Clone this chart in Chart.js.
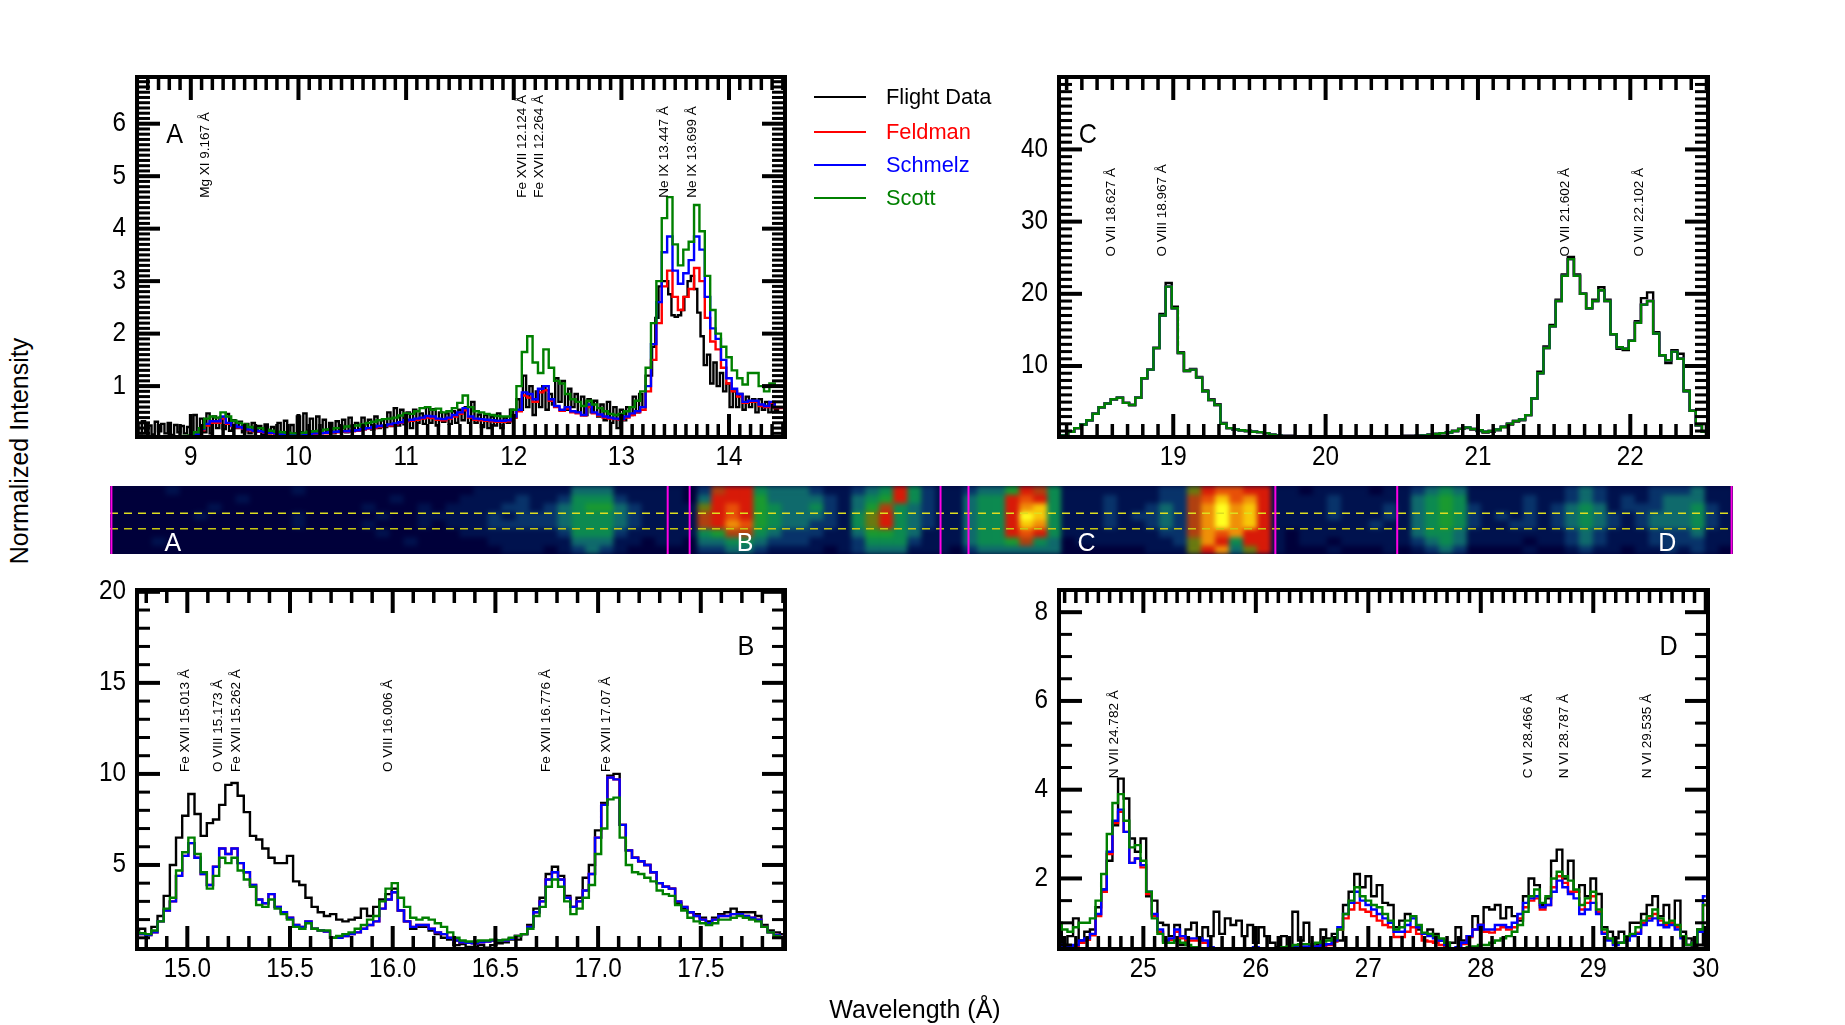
<!DOCTYPE html>
<html>
<head>
<meta charset="utf-8">
<title>Spectrum panels</title>
<script src="https://cdn.jsdelivr.net/npm/chart.js@4"></script>
<style>
  html, body { margin: 0; padding: 0; background: #fff; }
  #page { position: relative; width: 1845px; height: 1025px; overflow: hidden; font-family: "Liberation Sans", sans-serif; }
  canvas { position: absolute; }
  .axisname { position: absolute; font: 25px "Liberation Sans", sans-serif; color: #000; white-space: nowrap; }
  .legline { position: absolute; height: 2px; width: 52px; left: 814px; }
  .legtext { position: absolute; left: 886px; font-size: 21.8px; line-height: 24px; white-space: nowrap; }
  #strip { position: absolute; left: 110px; top: 486px; width: 1623px; height: 68px; overflow: hidden; background: #00003a; }
</style>
</head>
<body>
<div id="page">
  <canvas id="chartA" width="756" height="427" style="left:57px;top:60px"></canvas>
  <canvas id="chartC" width="757" height="427" style="left:979px;top:60px"></canvas>
  <canvas id="chartB" width="756" height="425" style="left:57px;top:574px"></canvas>
  <canvas id="chartD" width="757" height="425" style="left:979px;top:574px"></canvas>
  <div id="strip">
    <canvas id="stripCells" width="1623" height="68" style="left:0;top:0;filter:blur(2.5px)"></canvas>
  </div>
  <canvas id="stripMarks" width="1623" height="68" style="left:110px;top:486px"></canvas>
  <div class="axisname" style="left:915px;top:995px;transform:translateX(-50%)">Wavelength (Å)</div>
  <div class="axisname" style="left:19px;top:451px;transform:translate(-50%,-50%) rotate(-90deg)">Normalized Intensity</div>
</div>

<script>
const seriesNames = ["Flight Data", "Feldman", "Schmelz", "Scott"];
const seriesColors = ["#000000", "#ff0000", "#0000ff", "#008000"];

// panel A, 8.5 - 14.5 A
const flightA = [
  .28,.1,.33,.12,.25,.08,.32,.14,.28,.1,.3,.07,.26,.12,.24,.1,.22,
  .08,.45,.1,.38,.12,.48,.1,.42,.2,.4,.18,.47,.15,.35,.2,.32,.12,.28,.1,.3,.14,.24,.08,.27,.1,.22,.07,.3,.09,.34,.08,.26,.1,
  .42,.12,.48,.15,.38,.1,.42,.16,.36,.14,.3,.1,.33,.13,.36,.12,.4,.15,.3,.18,.4,.2,.36,.17,.42,.2,.35,.22,.5,.24,.58,.25,.55,
  .27,.5,.2,.55,.3,.48,.28,.6,.3,.56,.25,.5,.32,.48,.28,.52,.3,.55,.35,.6,.3,.7,.3,.46,.22,.45,.2,.42,.25,.48,.2,.4,.3,
  .55,.4,.75,.55,1.2,.6,1.0,.45,.9,.6,1.0,.55,.85,.65,1.15,.7,1.1,.55,.95,.6,.85,.5,.8,.45,.75,.5,.72,.42,.65,.35,.7,.3,.6,
  .2,.55,.35,.6,.45,.8,.5,.85,.6,1.2,1.2,1.75,2.3,2.9,3.0,3.0,2.75,2.35,2.32,2.35,2.45,2.7,3.0,3.1,2.85,2.4,1.95,1.4,1.6,1.05,
  1.45,1.0,1.25,.9,1.05,.6,.9,.6,.85,.55,.8,.6,.75,.5,.75,.55,.7,.5,.65,.55,.6];
const feldmanA = [
  .02,.02,.02,.02,.02,.02,.02,.02,.02,.02,
  .04,.07,.16,.25,.3,.3,.38,.28,.24,.21,
  .19,.16,.14,.13,.11,.1,.09,.08,.08,.08,
  .08,.08,.09,.09,.1,.1,.11,.12,.13,.13,
  .14,.15,.17,.19,.2,.22,.24,.25,.27,.3,
  .33,.34,.36,.38,.4,.39,.36,.35,.38,.42,
  .47,.54,.4,.36,.35,.34,.33,.32,.32,.33,
  .4,.52,.82,.78,.7,.88,.92,.72,.6,.53,
  .57,.5,.48,.44,.6,.48,.44,.4,.38,.37,
  .36,.4,.45,.5,.55,.9,1.5,2.2,2.9,3.2,
  2.7,2.45,2.7,2.85,3.25,3.0,2.3,1.85,1.7,1.35,
  1.05,.9,.8,.68,.7,.7,.62,.6,.68,.58,.58];
const schmelzA = [
  .02,.02,.02,.02,.02,.02,.02,.02,.02,.02,
  .04,.08,.18,.28,.33,.33,.42,.3,.25,.22,
  .2,.17,.15,.14,.12,.11,.1,.09,.08,.08,
  .08,.08,.09,.1,.1,.11,.12,.13,.14,.14,
  .15,.16,.18,.2,.22,.24,.25,.27,.29,.31,
  .35,.36,.38,.4,.43,.42,.38,.37,.4,.45,
  .5,.58,.42,.38,.37,.36,.35,.34,.34,.35,
  .42,.55,.88,.85,.75,.95,1.0,.75,.62,.55,
  .6,.52,.5,.45,.65,.5,.46,.42,.4,.38,
  .37,.42,.48,.52,.6,1.0,1.8,2.6,3.55,3.85,
  3.2,2.95,3.15,3.4,3.85,3.6,2.7,2.1,1.9,1.5,
  1.15,.95,.85,.7,.72,.72,.65,.62,.7,.6,.6];
const scottA = [
  .03,.03,.03,.03,.03,.03,.03,.03,.03,.05,
  .06,.12,.2,.38,.42,.4,.5,.42,.34,.3,
  .27,.22,.2,.2,.17,.15,.13,.12,.11,.1,
  .1,.11,.13,.14,.15,.17,.18,.2,.2,.23,
  .24,.25,.27,.3,.32,.35,.37,.38,.4,.44,
  .48,.47,.52,.58,.6,.55,.57,.5,.52,.58,
  .68,.82,.6,.52,.5,.47,.45,.43,.42,.42,
  .55,1.0,1.65,1.95,1.45,1.25,1.7,1.35,1.1,1.05,
  .85,.75,.7,.62,.72,.65,.58,.52,.47,.45,
  .47,.52,.6,.72,.9,1.35,2.2,3.0,4.2,4.6,
  3.7,3.3,3.6,3.75,4.45,3.95,3.1,2.45,2.0,1.75,
  1.55,1.3,1.15,1.03,1.25,1.25,1.0,.9,1.05,1.0,1.0];

// panel C, 18.25 - 22.49 A, the three models sit on top of each other here
const flightC = [
  .2,.4,.9,1.4,1.9,2.5,3.4,4.3,4.8,5.4,5.6,4.9,4.6,5.6,8.3,9.5,12.5,17.2,21.5,18.2,11.9,9.4,9.6,8.5,6.6,5.4,4.7,2.1,1.4,1.2,1.1,1.0,
  .9,.85,.7,.5,.4,.3,.3,.2,.2,.2,.2,.2,.2,.2,.2,.2,.2,.2,.2,.2,.2,.2,.2,.2,.25,.3,.3,.35,.4,.5,.6,.7,.8,1.0,1.3,1.4,1.2,1.0,.8,.9,1.1,1.5,1.9,
  2.3,2.5,3.2,5.5,9.2,12.7,15.7,19.2,22.7,25.1,22.7,20,18,19.2,20.9,19.2,14.4,12.4,12.2,13.5,16.2,19.4,20.2,14.7,11.5,10.4,12.2,11.7,6.6,3.8,1.8,.9];
const modelC = [
  .2,.4,.9,1.4,1.9,2.5,3.4,4.3,4.8,5.4,5.6,4.9,4.6,5.6,8.3,9.5,12.5,17,21,18,11.8,9.3,9.5,8.4,6.5,5.3,4.6,2,1.4,1.2,1.1,1.0,
  .9,.85,.7,.5,.4,.3,.3,.2,.2,.2,.2,.2,.2,.2,.2,.2,.2,.2,.2,.2,.2,.2,.2,.2,.25,.3,.3,.35,.4,.5,.6,.7,.8,1.0,1.3,1.5,1.3,1.1,.9,1.0,1.2,1.6,2.0,
  2.4,2.6,3.2,5.5,9,12.5,15.5,19,22.5,24.8,22.5,20,18,19,20.5,19,14.4,12.6,12.4,13.5,16,18.5,19,14.5,11.5,10.8,12,11,6.5,3.8,1.8,.9];

// panel B, 14.75 - 17.9 A
const flightB = [
  1.4,1.5,1.2,1.6,2.2,3.3,5.0,6.5,7.7,8.9,7.8,6.6,7.3,7.5,8.3,9.4,9.5,8.8,7.9,6.6,6.4,5.9,5.4,5.1,5.1,5.5,4.1,3.9,3.2,2.7,2.4,2.2,2.3,2.0,1.9,2.0,
  2.1,2.6,2.2,2.7,3.1,3.4,3.7,2.5,1.9,1.5,1.6,1.6,1.4,1.2,1.0,.9,.6,.65,.5,.5,.6,.45,.6,.7,.75,.9,.9,1.2,1.7,2.6,3.2,4.5,4.9,4.4,3.3,2.7,3.2,4.3,
  5.0,6.9,8.4,9.9,10.0,7.2,5.8,5.4,5.2,5.0,4.6,4.0,3.8,3.7,2.9,2.6,2.4,2.3,2.1,1.9,2.1,2.3,2.4,2.6,2.4,2.4,2.4,2.2,1.7,1.4,1.3,1.2];
const schmelzB = [
  1.25,1.2,1.15,1.3,1.9,2.5,3.0,4.4,5.5,6.2,5.4,4.5,3.9,4.9,5.9,5.6,5.9,5.1,4.6,3.9,3.1,2.9,3.4,2.7,2.4,2.1,1.7,1.6,1.9,1.5,1.4,1.35,1.0,1.0,1.1,1.2,
  1.3,1.5,1.7,1.9,2.6,3.1,3.5,2.5,1.9,1.6,1.7,1.7,1.5,1.3,1.2,1.0,.85,.75,.72,.7,.75,.8,.85,.85,.85,.95,1.1,1.2,1.6,2.4,3.0,4.2,4.6,4.2,3.2,2.7,3.0,3.6,
  4.5,6.5,8.3,9.8,9.7,7.2,5.8,5.4,5.2,5.0,4.6,4.0,3.8,3.7,3.0,2.7,2.4,2.2,2.0,1.8,2.0,2.2,2.2,2.3,2.3,2.2,2.1,2.0,1.6,1.3,1.15,1.05];
const scottB = [
  1.3,1.25,1.2,1.4,1.9,2.6,3.2,4.7,5.7,6.5,5.6,4.6,3.7,4.4,5.4,5.1,5.4,4.7,4.2,3.8,2.8,2.7,3.1,2.6,2.3,2.0,1.6,1.5,1.8,1.5,1.4,1.4,1.0,1.1,1.2,1.3,
  1.5,1.7,2.0,2.2,3.0,3.7,4.0,3.2,2.7,2.1,2.0,2.1,2.0,1.8,1.6,1.3,1.0,.85,.8,.8,.85,.85,.9,.85,.9,1.0,1.1,1.2,1.5,2.2,2.7,3.8,4.2,3.8,3.0,2.3,2.6,3.2,
  3.9,5.6,7.0,8.6,8.7,6.5,5.0,4.6,4.5,4.3,4.1,3.6,3.4,3.3,2.8,2.5,2.1,1.9,1.8,1.7,1.8,2.0,2.0,2.1,2.2,2.1,2.0,1.9,1.6,1.3,1.1,1.0];

// panel D, 24.25 - 30 A
const flightD = [
  .85,.5,.7,1.1,.6,.8,.85,1.35,1.75,2.4,
  3.2,4.25,3.8,2.9,2.6,2.9,1.6,1.5,1.0,.95,
  .7,.95,.5,.85,1.0,.65,.9,.7,1.25,.75,
  1.1,.95,1.05,.7,.95,.55,.9,.7,.55,.45,
  .7,.45,1.25,.6,1.0,.5,.5,.85,.65,.75,
  .6,1.4,1.7,2.1,1.8,2.05,1.6,1.85,1.45,1.4,
  .9,1.05,1.2,1.15,.85,.75,.85,.75,.6,.45,
  .55,.9,.6,.7,1.15,.95,1.35,1.3,1.4,1.1,
  1.35,1.15,1.05,1.6,2.0,1.85,1.4,1.55,2.4,2.65,
  2.0,2.4,1.7,1.85,1.6,2.0,1.65,.9,.8,.65,
  .8,.7,1.0,1.0,1.2,1.4,1.6,1.15,1.4,1.0,
  1.5,.8,.65,.45,.85,.5];
const feldmanD = [
  .45,.43,.42,.48,.55,.62,.72,1.15,1.7,2.55,
  3.25,3.5,3.05,2.35,2.45,2.25,1.65,1.15,.8,.58,
  .62,.8,.65,.6,.6,.6,.55,.4,.38,.38,
  .38,.38,.38,.38,.4,.42,.4,.38,.38,.4,
  .4,.42,.42,.43,.45,.45,.47,.48,.5,.58,
  .85,1.1,1.3,1.45,1.3,1.25,1.15,1.05,.95,.9,
  .68,.68,.8,.9,.75,.6,.58,.55,.5,.42,
  .38,.43,.52,.68,.85,.95,.8,.78,.85,.9,
  .85,.9,1.1,1.35,1.5,1.55,1.3,1.4,1.8,2.05,
  1.9,1.7,1.7,1.3,1.45,1.6,1.25,.78,.62,.52,
  .55,.62,.72,.78,1.0,1.1,1.2,1.05,.95,1.0,
  .9,.68,.5,.55,.8,1.4];
const schmelzD = [
  .5,.48,.45,.5,.6,.65,.75,1.2,1.75,2.6,
  3.3,3.55,3.05,2.35,2.45,2.3,1.7,1.2,.85,.6,
  .65,.85,.7,.65,.65,.65,.6,.45,.42,.4,
  .4,.4,.4,.4,.42,.45,.42,.4,.4,.42,
  .42,.45,.45,.45,.47,.47,.47,.5,.52,.6,
  .9,1.2,1.45,1.7,1.5,1.4,1.3,1.2,1.1,1.0,
  .8,.8,.95,1.1,.9,.75,.7,.65,.6,.5,
  .4,.45,.55,.7,.85,.95,.85,.85,.95,.95,
  .9,1.0,1.2,1.45,1.55,1.6,1.35,1.4,1.7,1.95,
  1.8,1.65,1.55,1.2,1.3,1.45,1.2,.75,.6,.5,
  .55,.6,.7,.75,.95,1.05,1.1,.95,.9,.95,
  .85,.65,.5,.55,.8,1.6];
const scottD = [
  1.0,.85,.8,.9,1.0,1.0,1.1,1.5,2.1,3.0,
  3.7,3.9,3.3,2.7,2.75,2.4,1.7,1.1,.75,.55,
  .55,.6,.55,.5,.45,.42,.38,.38,.37,.37,
  .37,.37,.37,.38,.4,.4,.4,.4,.42,.42,
  .45,.47,.5,.52,.52,.52,.55,.58,.6,.65,
  .85,1.2,1.5,1.8,1.6,1.5,1.4,1.35,1.2,1.05,
  .85,.9,1.05,1.15,.95,.78,.75,.7,.65,.55,
  .42,.4,.42,.45,.47,.5,.5,.55,.6,.65,
  .7,.8,.95,1.25,1.6,1.75,1.45,1.6,2.0,2.15,
  2.05,1.95,1.75,1.4,1.55,1.7,1.3,.85,.65,.55,
  .55,.7,.75,.9,1.05,1.15,1.3,1.1,1.0,1.05,
  .95,.7,.5,.55,.85,1.4];

// line identifications: text, wavelength where the text stands
const linesA = ["Mg XI 9.167 Å", "Fe XVII 12.124 Å", "Fe XVII 12.264 Å", "Ne IX 13.447 Å", "Ne IX 13.699 Å"];
const lineSpotA = [9.13, 12.08, 12.235, 13.40, 13.66];
const linesC = ["O VII 18.627 Å", "O VIII 18.967 Å", "O VII 21.602 Å", "O VII 22.102 Å"];
const lineSpotC = [18.59, 18.93, 21.57, 22.06];
const linesB = ["Fe XVII 15.013 Å", "O VIII 15.173 Å", "Fe XVII 15.262 Å", "O VIII 16.006 Å", "Fe XVII 16.776 Å", "Fe XVII 17.07 Å"];
const lineSpotB = [14.99, 15.15, 15.24, 15.98, 16.75, 17.04];
const linesD = ["N VII 24.782 Å", "C VI 28.466 Å", "N VI 28.787 Å", "N VI 29.535 Å"];
const lineSpotD = [24.74, 28.42, 28.74, 29.48];

// detector strip, one string per row, hex digit = brightness level
const stripRows = [
  "000010000000010000000000 00111111 13331 1111 02 7884 33321 123484 211 233 5874 111111 122 689988 1 101111011 2343 1111111 232 11 1222 3 11",
  "000000000100000000001000 01111211 24442 1111 03 8885 33332 134584 211 344 8984 111211 122 79b9a8 1 111211111 3454 1111211 232 12 1233 3 11",
  "000000010000000000100010 11112212 34553 2111 16 8985 43342 135743 211 344 8ab4 111211 232 7acab8 1 111211121 3454 2111212 343 12 2233 4 21",
  "000000100000010000010011 11121222 34443 2111 17 8985 43332 146843 211 344 8cb4 111212 232 7acab8 1 111211121 3454 2121212 343 21 2333 4 21",
  "000000000000010000100010 11122222 34443 2111 17 8a95 43322 146843 211 344 8ba4 111211 232 7acab8 1 111111211 3454 2112212 343 21 2333 4 21",
  "000000000000000000010000 01111111 24442 1111 14 5774 32221 135543 111 344 8984 111111 122 7a9a88 1 011111111 3443 1111111 232 11 1222 3 11",
  "000100000000000000000100 00011111 13331 1011 03 3443 22211 124442 111 344 5743 011111 112 6a8488 1 011011111 2343 1111011 232 11 1222 2 11",
  "000000000000000000000000 00001110 12321 0000 02 2332 11110 123331 110 233 3333 000000 111 68a368 1 000100010 1232 0000100 121 10 1121 2 10"
];
const stripLevels = ["#00003a", "#00124e", "#08336a", "#0f6a6c", "#0c8a50", "#1a9a30", "#6a7a10", "#b04010", "#d81a08", "#e85008", "#f09008", "#f8c808", "#ffff20"];
// in strip columns and rows
const stripBounds = [0.1, 39.86, 41.43, 59.36, 61.36, 83.29, 92, 115.9];
const stripCuts = [3.2, 5.03];
const stripCutColors = ["#dede20", "#c8c810"];
const stripLetters = ["A", "B", "C", "D"];
const stripLetterSpot = [4.5, 45.4, 69.8, 111.3];

// one text, squeezed a little sideways like the labels of the original
function narrowText(ctx, text, x, y, squeeze) {
  ctx.save();
  ctx.translate(x, y);
  ctx.scale(squeeze, 1);
  ctx.fillText(text, 0, 0);
  ctx.restore();
}

// draws the box, the inward ticks, the tick labels, the line names and the panel letter
const panelDressing = {
  id: "panelDressing",
  afterDatasetsDraw(chart, args, opts) {
    const ctx = chart.ctx;
    const area = chart.chartArea;
    const xs = chart.scales.x;
    const ys = chart.scales.y;
    ctx.save();
    ctx.strokeStyle = "#000";

    function tick(x0, y0, x1, y1, w) {
      ctx.lineWidth = w;
      ctx.beginPath();
      ctx.moveTo(x0, y0);
      ctx.lineTo(x1, y1);
      ctx.stroke();
    }

    const xMajors = xs.ticks.map((t) => t.value);
    const yMajors = ys.ticks.map((t) => t.value);
    for (let k = Math.ceil(xs.min / opts.xMinor); k * opts.xMinor <= xs.max; k++) {
      const v = k * opts.xMinor;
      const major = xMajors.some((m) => Math.abs(m - v) < 1e-6);
      const len = major ? 23 : 13;
      const px = xs.getPixelForValue(v);
      tick(px, area.bottom, px, area.bottom - len, major ? 4 : 3.5);
      tick(px, area.top, px, area.top + len, major ? 4 : 3.5);
    }
    for (let k = Math.ceil(ys.min / opts.yMinor); k * opts.yMinor <= ys.max; k++) {
      const v = k * opts.yMinor;
      const major = yMajors.some((m) => Math.abs(m - v) < 1e-6);
      const len = major ? 23 : 13;
      const py = ys.getPixelForValue(v);
      tick(area.left, py, area.left + len, py, major ? 4 : 3);
      tick(area.right, py, area.right - len, py, major ? 4 : 3);
    }
    ctx.lineWidth = 4;
    ctx.strokeRect(area.left, area.top, area.right - area.left, area.bottom - area.top);

    ctx.fillStyle = "#000";
    ctx.font = '27px "Liberation Sans"';
    ctx.textBaseline = "middle";
    ctx.textAlign = "center";
    xs.ticks.forEach((t) => {
      narrowText(ctx, t.value.toFixed(opts.xDigits), xs.getPixelForValue(t.value), area.bottom + 21, 0.9);
    });
    ctx.textAlign = "right";
    ys.ticks.forEach((t) => {
      narrowText(ctx, String(t.value), area.left - 11, ys.getPixelForValue(t.value), 0.9);
    });

    ctx.font = '13.5px "Liberation Sans"';
    ctx.textAlign = "left";
    opts.lines.forEach((name, i) => {
      ctx.save();
      ctx.translate(xs.getPixelForValue(opts.spots[i]), ys.getPixelForValue(opts.lineBase));
      ctx.rotate(-Math.PI / 2);
      ctx.fillText(name, 0, 0);
      ctx.restore();
    });

    ctx.font = '28px "Liberation Sans"';
    ctx.textAlign = "center";
    narrowText(ctx, opts.letter, xs.getPixelForValue(opts.letterX), ys.getPixelForValue(opts.letterY), 0.9);
    ctx.restore();
  },
};

function pairs(first, step, values) {
  return values.map((v, i) => ({ x: first + i * step, y: v }));
}

function makePanel(id, p) {
  const datasets = p.series.map((s, i) => ({
    label: seriesNames[i],
    data: pairs(s.first, s.step, s.values),
    borderColor: seriesColors[i],
    borderWidth: 2.4,
    stepped: "middle",
    pointRadius: 0,
    fill: false,
    order: 3 - i,
  }));
  return new Chart(document.getElementById(id), {
    type: "line",
    data: { datasets: datasets },
    plugins: [panelDressing],
    options: {
      responsive: false,
      animation: false,
      layout: { padding: { top: p.padTop, right: 28, left: 0, bottom: 0 } },
      scales: {
        x: {
          type: "linear",
          min: p.xMin,
          max: p.xMax,
          afterBuildTicks: (scale) => { scale.ticks = p.xTicks.map((v) => ({ value: v })); },
          afterFit: (scale) => { scale.height = 50; },
          grid: { display: false, drawTicks: false },
          border: { display: false },
          ticks: { display: false },
        },
        y: {
          type: "linear",
          min: p.yMin,
          max: p.yMax,
          afterBuildTicks: (scale) => { scale.ticks = p.yTicks.map((v) => ({ value: v })); },
          afterFit: (scale) => { scale.width = 80; },
          grid: { display: false, drawTicks: false },
          border: { display: false },
          ticks: { display: false },
        },
      },
      plugins: {
        legend: { display: false },
        title: { display: false },
        tooltip: { enabled: false },
        panelDressing: {
          xMinor: p.xMinor,
          yMinor: p.yMinor,
          xDigits: p.xDigits,
          lines: p.lines,
          spots: p.spots,
          lineBase: p.lineBase,
          letter: p.letter,
          letterX: p.letterX,
          letterY: p.letterY,
        },
      },
    },
  });
}

makePanel("chartA", {
  series: [
    { first: 8.5, step: 0.03, values: flightA },
    { first: 8.5, step: 0.05, values: feldmanA },
    { first: 8.5, step: 0.05, values: schmelzA },
    { first: 8.5, step: 0.05, values: scottA },
  ],
  padTop: 17,
  xMin: 8.5, xMax: 14.52, yMin: 0.03, yMax: 6.89,
  xTicks: [9, 10, 11, 12, 13, 14], xDigits: 0, xMinor: 0.1,
  yTicks: [1, 2, 3, 4, 5, 6], yMinor: 0.1,
  lines: linesA, spots: lineSpotA, lineBase: 4.59,
  letter: "A", letterX: 8.85, letterY: 5.78,
});

makePanel("chartC", {
  series: [
    { first: 18.25, step: 0.04, values: flightC },
    { first: 18.25, step: 0.04, values: modelC },
    { first: 18.25, step: 0.04, values: modelC },
    { first: 18.25, step: 0.04, values: modelC },
  ],
  padTop: 17,
  xMin: 18.25, xMax: 22.51, yMin: 0.17, yMax: 50.03,
  xTicks: [19, 20, 21, 22], xDigits: 0, xMinor: 0.1,
  yTicks: [10, 20, 30, 40], yMinor: 1,
  lines: linesC, spots: lineSpotC, lineBase: 25.17,
  letter: "C", letterX: 18.44, letterY: 42,
});

makePanel("chartB", {
  series: [
    { first: 14.75, step: 0.03, values: flightB },
    { first: 14.75, step: 0.03, values: schmelzB },
    { first: 14.75, step: 0.03, values: schmelzB },
    { first: 14.75, step: 0.03, values: scottB },
  ],
  padTop: 16,
  xMin: 14.755, xMax: 17.91, yMin: 0.385, yMax: 20.1,
  xTicks: [15, 15.5, 16, 16.5, 17, 17.5], xDigits: 1, xMinor: 0.1,
  yTicks: [5, 10, 15, 20], yMinor: 1,
  lines: linesB, spots: lineSpotB, lineBase: 10.1,
  letter: "B", letterX: 17.72, letterY: 16.98,
});

makePanel("chartD", {
  series: [
    { first: 24.25, step: 0.05, values: flightD },
    { first: 24.25, step: 0.05, values: feldmanD },
    { first: 24.25, step: 0.05, values: schmelzD },
    { first: 24.25, step: 0.05, values: scottD },
  ],
  padTop: 16,
  xMin: 24.25, xMax: 30.02, yMin: 0.41, yMax: 8.5,
  xTicks: [25, 26, 27, 28, 29, 30], xDigits: 0, xMinor: 0.1,
  yTicks: [2, 4, 6, 8], yMinor: 0.5,
  lines: linesD, spots: lineSpotD, lineBase: 4.26,
  letter: "D", letterX: 29.67, letterY: 7.21,
});

// the strip: stacked cells coloured by level, lines and letters on a second canvas
const stripCols = stripRows.map((row) => row.replace(/ /g, ""));
const colNames = Array.from(stripCols[0]).map((c, i) => i);
new Chart(document.getElementById("stripCells"), {
  type: "bar",
  data: {
    labels: colNames,
    datasets: stripCols.map((row) => ({
      data: colNames.map(() => 1),
      backgroundColor: Array.from(row).map((c) => stripLevels[parseInt(c, 16)]),
      barPercentage: 1,
      categoryPercentage: 1,
      borderWidth: 0,
    })),
  },
  options: {
    responsive: false,
    animation: false,
    layout: { padding: 0 },
    plugins: { legend: { display: false }, tooltip: { enabled: false } },
    scales: {
      x: { display: false, stacked: true, offset: true },
      y: { display: false, stacked: true, min: 0, max: stripCols.length, reverse: true },
    },
  },
});

const stripText = {
  id: "stripText",
  afterDatasetsDraw(chart) {
    const ctx = chart.ctx;
    ctx.save();
    ctx.fillStyle = "#fff";
    ctx.font = '25px "Liberation Sans"';
    ctx.textAlign = "center";
    ctx.textBaseline = "middle";
    stripLetters.forEach((name, i) => {
      ctx.fillText(name, chart.scales.x.getPixelForValue(stripLetterSpot[i]), chart.scales.y.getPixelForValue(6.85));
    });
    ctx.restore();
  },
};

const stripMarks = [];
stripBounds.forEach((b) => {
  stripMarks.push({
    data: [{ x: b, y: 0 }, { x: b, y: 8 }],
    borderColor: "#ff00e6",
    borderWidth: 2,
    showLine: true,
    pointRadius: 0,
  });
});
stripCuts.forEach((c, i) => {
  stripMarks.push({
    data: [{ x: 0, y: c }, { x: 116, y: c }],
    borderColor: stripCutColors[i],
    borderWidth: 1.5,
    borderDash: [8, 6],
    showLine: true,
    pointRadius: 0,
  });
});
new Chart(document.getElementById("stripMarks"), {
  type: "scatter",
  data: { datasets: stripMarks },
  plugins: [stripText],
  options: {
    responsive: false,
    animation: false,
    layout: { padding: 0 },
    plugins: { legend: { display: false }, tooltip: { enabled: false } },
    scales: {
      x: { display: false, min: 0, max: 116 },
      y: { display: false, min: 0, max: 8, reverse: true },
    },
  },
});

// legend between the two upper panels
const page = document.getElementById("page");
const legendRows = [96, 131, 164, 197];
seriesNames.forEach((name, i) => {
  const line = document.createElement("div");
  line.className = "legline";
  line.style.top = legendRows[i] + "px";
  line.style.background = seriesColors[i];
  page.appendChild(line);
  const text = document.createElement("div");
  text.className = "legtext";
  text.style.top = legendRows[i] - 11 + "px";
  text.style.color = seriesColors[i];
  text.textContent = name;
  page.appendChild(text);
});
</script>
</body>
</html>
